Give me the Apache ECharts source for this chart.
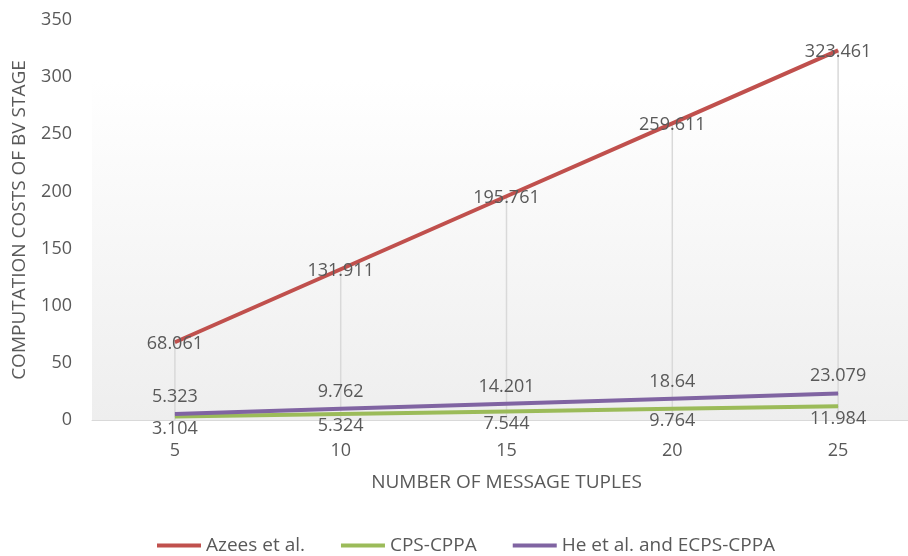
<!DOCTYPE html>
<html><head><meta charset="utf-8">
<script src="https://cdn.jsdelivr.net/npm/echarts@6/dist/echarts.min.js"></script>
<style>html,body{margin:0;padding:0;background:#fff}#c{width:908px;height:556px}</style>
</head><body><div id="c"></div>
<script>
const categories = ['5', '10', '15', '20', '25'];
const azees = [68.061, 131.911, 195.761, 259.611, 323.461];
const cps = [3.104, 5.324, 7.544, 9.764, 11.984];
const he = [5.323, 9.762, 14.201, 18.64, 23.079];
const seriesNames = ['Azees et al.', 'CPS-CPPA', 'He et al. and ECPS-CPPA'];

const font = 'Open Sans';
const txt = '#595959';
const chart = echarts.init(document.getElementById('c'));
function lineSeries(name, data, color, label) {
  return {
    type: 'line', name: name, data: data, symbol: 'circle', symbolSize: 0.5, showSymbol: true,
    lineStyle: { color: color, width: 4 }, itemStyle: { color: color },
    label: Object.assign({ show: true, fontFamily: font, fontSize: 18, color: txt }, label),
    emphasis: { disabled: true }, z: 3
  };
}
chart.setOption({
  animation: false,
  textStyle: { fontFamily: font },
  grid: {
    left: 92, top: 20, width: 829, height: 400, show: true, borderWidth: 0,
    outerBoundsMode: 'none', containLabel: false,
    backgroundColor: new echarts.graphic.LinearGradient(0, 0, 0, 1, [
      { offset: 0, color: '#ffffff' }, { offset: 0.15, color: '#ffffff' }, { offset: 1, color: '#eeeeee' }
    ])
  },
  legend: {
    data: seriesNames, left: 152, top: 531, itemWidth: 44, itemHeight: 4, itemGap: 36,
    icon: 'rect',
    textStyle: { fontFamily: font, fontSize: 19, color: txt }
  },
  xAxis: {
    type: 'category', data: categories, boundaryGap: true,
    name: 'NUMBER OF MESSAGE TUPLES', nameLocation: 'middle', nameGap: 53,
    nameTextStyle: { fontFamily: font, fontSize: 19, color: txt },
    axisLine: { lineStyle: { color: '#d9d9d9', width: 1 } },
    axisTick: { show: false },
    axisLabel: { fontFamily: font, fontSize: 18, color: txt, margin: 22 }
  },
  yAxis: {
    type: 'value', min: 0, max: 350, interval: 50,
    name: 'COMPUTATION COSTS OF BV STAGE', nameLocation: 'middle', nameGap: 63,
    nameTextStyle: { fontFamily: font, fontSize: 19, color: txt },
    axisLine: { show: false }, axisTick: { show: false },
    splitLine: { show: false },
    axisLabel: { fontFamily: font, fontSize: 18, color: txt, margin: 20 }
  },
  series: [
    {
      type: 'bar', name: 'drop', data: azees, barWidth: 1.5, silent: true,
      itemStyle: { color: '#d9d9d9' }, z: 1
    },
    lineSeries(seriesNames[0], azees, '#C0504D', { position: 'inside', offset: [0, 2] }),
    lineSeries(seriesNames[1], cps, '#9BBB59', { position: 'bottom', distance: 3 }),
    lineSeries(seriesNames[2], he, '#8064A2', { position: 'top', distance: 8 })
  ]
});
</script></body></html>
